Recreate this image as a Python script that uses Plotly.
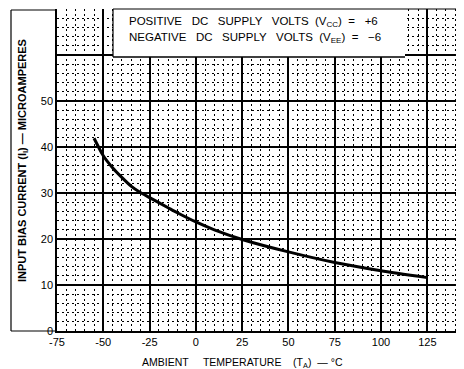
import plotly.graph_objects as go

# Data
temperature_c = [-55, -50, -45, -40, -35, -30, -25, -15, -10, 0, 10, 25, 50, 75, 100, 125]
bias_current_ua = [41.9, 38.1, 35.5, 33.4, 31.5, 30.1, 29.0, 26.8, 25.7, 23.7, 22.0, 19.9, 17.2, 14.9, 13.1, 11.6]

x_ticks = [-75, -50, -25, 0, 25, 50, 75, 100, 125]
x_tick_labels = ["-75", "-50", "-25", "0", "25", "50", "75", "100", "125"]
y_ticks = [0, 10, 20, 30, 40, 50, 60]
y_tick_labels = ["0", "10", "20", "30", "40", "50", ""]

FONT = "Liberation Sans, Arial, sans-serif"

# The page body adds an 8px offset; work in page pixels and compensate.
OFF = 8
PAGE_W, PAGE_H = 464, 369
W, H = PAGE_W - OFF, PAGE_H - OFF
PLOT_L, PLOT_R, PLOT_T, PLOT_B = 57, 464, 9, 331  # page pixels
pw, ph = PLOT_R - PLOT_L, PLOT_B - PLOT_T

def px(x):
    return (x - PLOT_L) / pw

def py(y):
    return (PLOT_B - y) / ph

fig = go.Figure()
fig.add_trace(go.Scatter(
    x=temperature_c, y=bias_current_ua, mode="lines",
    line=dict(color="black", width=3, shape="spline", smoothing=0.6),
    hoverinfo="skip", showlegend=False,
))

fig.update_layout(
    width=W, height=H,
    margin=dict(l=PLOT_L - OFF, r=PAGE_W - PLOT_R, t=PLOT_T - OFF, b=PAGE_H - PLOT_B),
    paper_bgcolor="white", plot_bgcolor="white",
    font=dict(family=FONT, color="black", size=10.5),
    xaxis=dict(
        range=[-75, 144.8], tickvals=x_ticks, ticktext=x_tick_labels,
        showgrid=True, gridcolor="black", gridwidth=1.5,
        minor=dict(dtick=5, tick0=0, showgrid=True, gridcolor="black",
                   gridwidth=1, griddash="2px,3px"),
        showline=True, linecolor="black", linewidth=1.5,
        ticks="", zeroline=False, tickfont=dict(size=11),
    ),
    yaxis=dict(
        range=[0, 70], tickvals=y_ticks, ticktext=y_tick_labels,
        showgrid=True, gridcolor="black", gridwidth=1.5,
        minor=dict(dtick=2, tick0=0, showgrid=True, gridcolor="black",
                   gridwidth=1, griddash="2px,3px"),
        showline=True, linecolor="black", linewidth=1.5,
        ticks="", zeroline=False, tickfont=dict(size=11),
    ),
)

# White condition box at top of plot
fig.add_shape(type="rect", xref="paper", yref="paper",
              x0=px(113), x1=px(405), y0=py(57), y1=py(0),
              fillcolor="white", line=dict(width=0), layer="above")
fig.add_shape(type="line", xref="paper", yref="paper",
              x0=px(113), x1=px(405), y0=py(57), y1=py(57),
              line=dict(color="black", width=1.5), layer="above")
fig.add_shape(type="line", xref="paper", yref="paper",
              x0=px(113), x1=px(113), y0=py(57), y1=py(9),
              line=dict(color="black", width=1.2), layer="above")
fig.add_shape(type="line", xref="paper", yref="paper",
              x0=px(113), x1=px(464), y0=py(9), y1=py(9),
              line=dict(color="black", width=1), layer="above")

# Outer frame around tick-label area
fig.add_shape(type="line", xref="paper", yref="paper",
              x0=px(11), x1=px(11), y0=py(331), y1=py(10),
              line=dict(color="black", width=1.2), layer="above")
fig.add_shape(type="line", xref="paper", yref="paper",
              x0=px(11), x1=px(57), y0=py(331), y1=py(331),
              line=dict(color="black", width=1.2), layer="above")
fig.add_shape(type="line", xref="paper", yref="paper",
              x0=px(11), x1=px(57), y0=py(10), y1=py(10),
              line=dict(color="black", width=1.2), layer="above")

fig.add_annotation(xref="paper", yref="paper", x=px(127), y=py(22),
                   xanchor="left", yanchor="middle", showarrow=False,
                   text="POSITIVE   DC   SUPPLY   VOLTS  (V<sub>CC</sub>)  =   +6",
                   font=dict(size=11.5, family=FONT))
fig.add_annotation(xref="paper", yref="paper", x=px(127), y=py(38),
                   xanchor="left", yanchor="middle", showarrow=False,
                   text="NEGATIVE   DC   SUPPLY   VOLTS  (V<sub>EE</sub>)  =   −6",
                   font=dict(size=11.5, family=FONT))

fig.add_annotation(xref="paper", yref="paper", x=px(23), y=py(161),
                   xanchor="center", yanchor="middle", showarrow=False,
                   textangle=-90,
                   text="<b>INPUT BIAS CURRENT (I<sub>I</sub>) — MICROAMPERES</b>",
                   font=dict(size=11, family=FONT))
fig.add_annotation(xref="paper", yref="paper", x=px(242), y=py(363),
                   xanchor="center", yanchor="middle", showarrow=False,
                   text="AMBIENT     TEMPERATURE    (T<sub>A</sub>)  — °C",
                   font=dict(size=10.5, family=FONT))

fig.write_html("out.html")
